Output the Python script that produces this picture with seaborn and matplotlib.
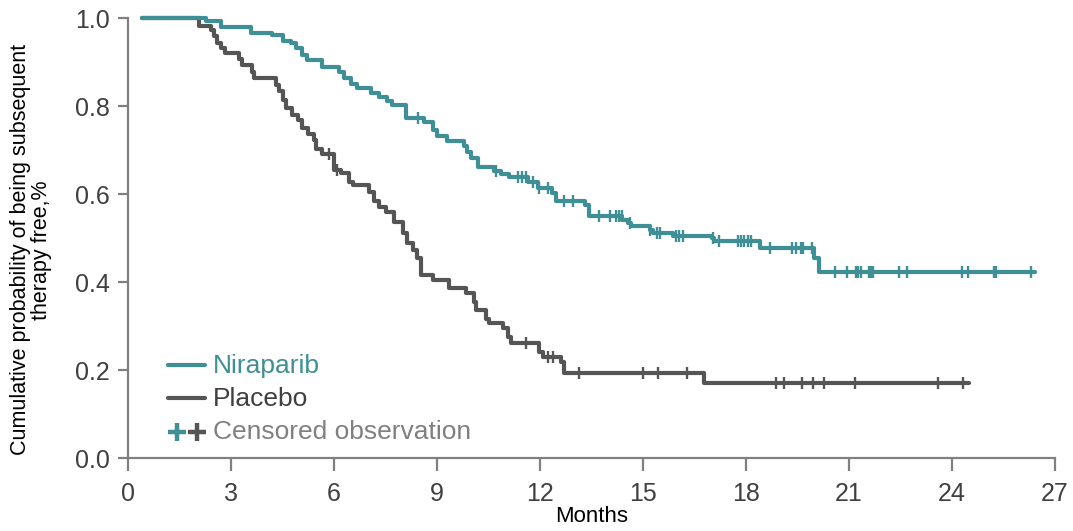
import numpy as np
import pandas as pd
import matplotlib
matplotlib.use("Agg")
import matplotlib.pyplot as plt
from matplotlib.lines import Line2D
import seaborn as sns

# ---------------- data ----------------
nira_start = 0.4
nira_end = 26.43
nira_times = [2.26, 2.7, 3.58, 4.2, 4.5, 4.74, 4.89, 5.08, 5.22, 5.66, 6.15, 6.3, 6.49, 6.68,
              7.07, 7.32, 7.55, 7.7, 8.1, 8.63, 8.87, 9.0, 9.3, 9.8, 9.88, 10.0, 10.2, 10.67,
              10.86, 11.1, 11.64, 11.93, 12.36, 12.47, 13.3, 13.44, 14.4, 14.55, 14.65, 15.19,
              15.28, 15.86, 17.0, 17.08, 18.4, 19.97, 20.13]
nira_surv = [0.993, 0.979, 0.965, 0.961, 0.948, 0.943, 0.931, 0.916, 0.905, 0.889, 0.878, 0.863,
             0.851, 0.840, 0.829, 0.820, 0.812, 0.802, 0.772, 0.763, 0.745, 0.732, 0.720, 0.709,
             0.696, 0.681, 0.662, 0.652, 0.645, 0.638, 0.628, 0.613, 0.602, 0.583, 0.575, 0.550,
             0.542, 0.533, 0.527, 0.518, 0.512, 0.505, 0.499, 0.493, 0.478, 0.454, 0.423]
nira_censor = [8.45, 10.72, 11.35, 11.49, 11.6, 11.79, 11.98, 12.22, 12.71, 12.95, 13.71, 14.04,
               14.2, 14.29, 14.39, 14.61, 15.19, 15.42, 15.5, 15.95, 16.04, 16.16, 17.03, 17.21,
               17.78, 17.85, 17.93, 18.06, 18.15, 18.69, 19.33, 19.46, 19.61, 19.66, 19.91, 20.6,
               20.95, 21.21, 21.27, 21.34, 21.57, 21.64, 21.71, 22.46, 22.68, 24.28, 24.48, 25.23,
               25.27, 26.31]

plac_start = 0.4
plac_end = 24.5
plac_times = [2.07, 2.41, 2.5, 2.6, 2.7, 2.83, 3.24, 3.33, 3.62, 3.67, 4.3, 4.4, 4.5, 4.6, 4.79,
              4.94, 5.08, 5.23, 5.42, 5.47, 5.66, 6.0, 6.2, 6.44, 6.54, 7.03, 7.17, 7.32, 7.51,
              7.76, 8.0, 8.14, 8.29, 8.43, 8.53, 8.87, 9.36, 9.84, 10.09, 10.14, 10.43, 10.52,
              10.91, 11.06, 11.16, 11.98, 12.08, 12.61, 12.71, 16.77]
plac_surv = [0.982, 0.973, 0.958, 0.943, 0.931, 0.920, 0.906, 0.893, 0.878, 0.863, 0.848, 0.833,
             0.814, 0.796, 0.780, 0.768, 0.751, 0.736, 0.723, 0.702, 0.691, 0.655, 0.647, 0.628,
             0.620, 0.605, 0.583, 0.571, 0.560, 0.537, 0.511, 0.489, 0.473, 0.454, 0.416, 0.405,
             0.386, 0.374, 0.355, 0.336, 0.317, 0.306, 0.295, 0.276, 0.261, 0.242, 0.230, 0.219,
             0.193, 0.170]
plac_censor = [5.86, 6.1, 11.6, 12.22, 12.37, 13.14, 15.0, 15.44, 16.28, 18.87, 19.12, 19.64,
               19.96, 20.27, 21.17, 23.58, 24.31]

x_ticks = [0, 3, 6, 9, 12, 15, 18, 21, 24, 27]
y_ticks = [0.0, 0.2, 0.4, 0.6, 0.8, 1.0]
y_label = "Cumulative probability of being subsequent\ntherapy free,%"
x_label = "Months"
legend_labels = ["Niraparib", "Placebo", "Censored observation"]

TEAL = "#3f8f97"
GRAY = "#555555"
AXIS = "#808080"

# ---------------- build curves ----------------
def curve(start, times, surv, end):
    xs = [start] + list(times) + [end]
    ys = [1.0] + list(surv) + [surv[-1]]
    return pd.DataFrame({"Months": xs, "S": ys})

def censor_levels(times, surv, cens):
    t = np.asarray(times)
    s = np.asarray([1.0] + list(surv))
    idx = np.searchsorted(t, np.asarray(cens), side="right")
    return pd.DataFrame({"Months": cens, "S": s[idx]})

nira_df = curve(nira_start, nira_times, nira_surv, nira_end)
plac_df = curve(plac_start, plac_times, plac_surv, plac_end)
nira_c = censor_levels(nira_times, nira_surv, nira_censor)
plac_c = censor_levels(plac_times, plac_surv, plac_censor)

# ---------------- plot ----------------
sns.set_theme(style="white")
plt.rcParams["font.family"] = ["Liberation Sans", "DejaVu Sans"]
narrow = ["Liberation Sans Narrow", "Liberation Sans", "DejaVu Sans"]

fig = plt.figure(figsize=(10.73, 5.31), dpi=100)
ax = fig.add_axes([128 / 1073, 73 / 531, 927 / 1073, 440 / 531])

sns.lineplot(data=plac_df, x="Months", y="S", ax=ax, color=GRAY, lw=3.0,
             drawstyle="steps-post", estimator=None, sort=False, clip_on=False)
sns.lineplot(data=nira_df, x="Months", y="S", ax=ax, color=TEAL, lw=3.0,
             drawstyle="steps-post", estimator=None, sort=False, clip_on=False)
sns.scatterplot(data=plac_c, x="Months", y="S", ax=ax, marker="|", s=85,
                color=GRAY, linewidths=1.7, clip_on=False, zorder=4)
sns.scatterplot(data=nira_c, x="Months", y="S", ax=ax, marker="|", s=85,
                color=TEAL, linewidths=1.7, clip_on=False, zorder=4)

ax.set_xlim(0, 27)
ax.set_ylim(0, 1.0)
ax.set_xticks(x_ticks)
ax.set_xticklabels([str(v) for v in x_ticks], family=narrow, fontsize=18, color="#404040")
ax.set_yticks(y_ticks)
ax.set_yticklabels([f"{v:.1f}" for v in y_ticks], family=narrow, fontsize=18, color="#404040")
ax.tick_params(axis="both", which="major", direction="out", color=AXIS, width=1.6,
               bottom=True, left=True, top=False, right=False)
ax.tick_params(axis="x", length=9, pad=8)
ax.tick_params(axis="y", length=7, pad=6)

for side in ["top", "right"]:
    ax.spines[side].set_visible(False)
for side in ["left", "bottom"]:
    ax.spines[side].set_color(AXIS)
    ax.spines[side].set_linewidth(1.6)

ax.set_xlabel(x_label, family=narrow, fontsize=16, color="black", labelpad=0)
ax.set_ylabel(y_label, fontsize=15.5, color="black", linespacing=1.0)
ax.yaxis.set_label_coords(-0.082, 0.473)

# ---------------- legend (manual) ----------------
tr = ax.transAxes
def ax_x(px):
    return (px - 128) / 927
def ax_y(py):
    return (458 - py) / 440

for (py, col) in [(365, TEAL), (398, GRAY)]:
    ax.add_line(Line2D([ax_x(168), ax_x(205)], [ax_y(py), ax_y(py)], transform=tr,
                       color=col, lw=3.0, clip_on=False))
ax.plot([ax_x(177)], [ax_y(432)], transform=tr, marker="+", ms=13, mew=3.2, color=TEAL,
        clip_on=False, ls="none")
ax.plot([ax_x(197)], [ax_y(432)], transform=tr, marker="+", ms=13, mew=3.2, color=GRAY,
        clip_on=False, ls="none")
for (py, txt, col) in [(366, legend_labels[0], TEAL), (399, legend_labels[1], "#404040"),
                       (432, legend_labels[2], "#808080")]:
    ax.text(ax_x(213), ax_y(py), txt, transform=tr, fontsize=19, color=col,
            va="center", ha="left")

fig.savefig("out.png", dpi=100)
